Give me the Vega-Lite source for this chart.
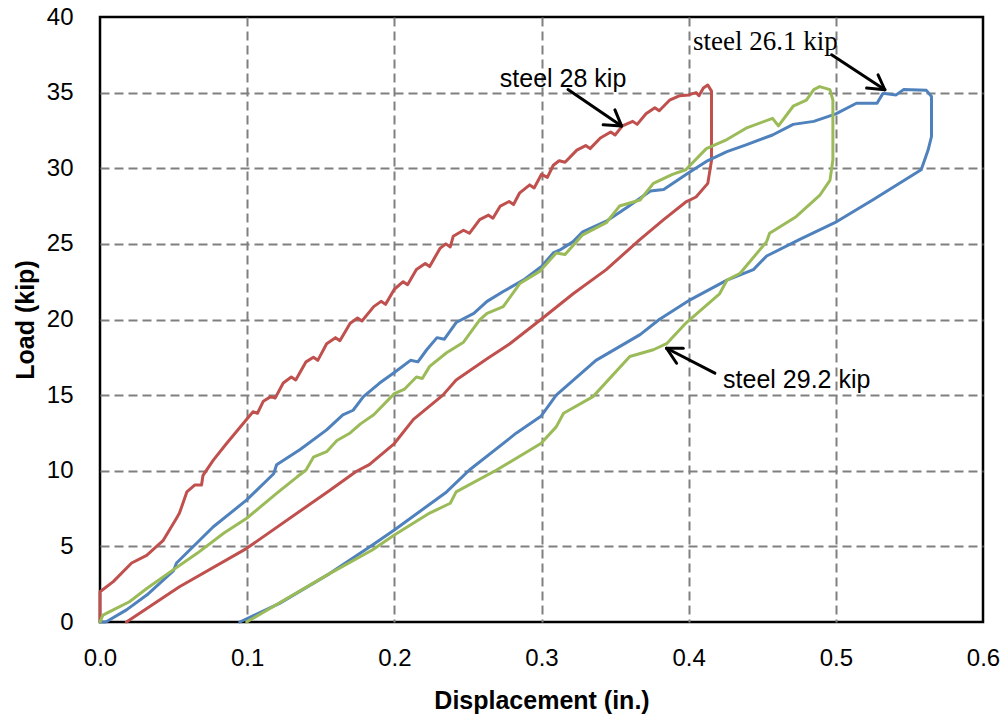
{
  "$schema": "https://vega.github.io/schema/vega-lite/v6.json",
  "width": 883,
  "height": 605,
  "autosize": {"type": "none"},
  "padding": {"left": 100, "top": 17, "right": 25, "bottom": 99},
  "background": "white",
  "config": {
    "font": "Liberation Sans",
    "view": {"stroke": "#000000", "strokeWidth": 2.5}
  },
  "datasets": {
    "curves": [
      {"specimen": "steel 28 kip", "seq": 1, "disp": 0, "load": 0},
      {"specimen": "steel 28 kip", "seq": 2, "disp": 0, "load": 2.0},
      {"specimen": "steel 28 kip", "seq": 3, "disp": 0.009, "load": 2.67},
      {"specimen": "steel 28 kip", "seq": 4, "disp": 0.0215, "load": 3.9},
      {"specimen": "steel 28 kip", "seq": 5, "disp": 0.0317, "load": 4.4},
      {"specimen": "steel 28 kip", "seq": 6, "disp": 0.043, "load": 5.4},
      {"specimen": "steel 28 kip", "seq": 7, "disp": 0.052, "load": 6.86},
      {"specimen": "steel 28 kip", "seq": 8, "disp": 0.054, "load": 7.2},
      {"specimen": "steel 28 kip", "seq": 9, "disp": 0.059, "load": 8.6},
      {"specimen": "steel 28 kip", "seq": 10, "disp": 0.0645, "load": 9.06},
      {"specimen": "steel 28 kip", "seq": 11, "disp": 0.069, "load": 9.06},
      {"specimen": "steel 28 kip", "seq": 12, "disp": 0.070, "load": 9.7},
      {"specimen": "steel 28 kip", "seq": 13, "disp": 0.077, "load": 10.7},
      {"specimen": "steel 28 kip", "seq": 14, "disp": 0.086, "load": 11.8},
      {"specimen": "steel 28 kip", "seq": 15, "disp": 0.0997, "load": 13.4},
      {"specimen": "steel 28 kip", "seq": 16, "disp": 0.104, "load": 13.9},
      {"specimen": "steel 28 kip", "seq": 17, "disp": 0.107, "load": 13.8},
      {"specimen": "steel 28 kip", "seq": 18, "disp": 0.111, "load": 14.6},
      {"specimen": "steel 28 kip", "seq": 19, "disp": 0.116, "load": 14.9},
      {"specimen": "steel 28 kip", "seq": 20, "disp": 0.119, "load": 14.8},
      {"specimen": "steel 28 kip", "seq": 21, "disp": 0.1245, "load": 15.8},
      {"specimen": "steel 28 kip", "seq": 22, "disp": 0.130, "load": 16.2},
      {"specimen": "steel 28 kip", "seq": 23, "disp": 0.133, "load": 16.0},
      {"specimen": "steel 28 kip", "seq": 24, "disp": 0.140, "load": 17.2},
      {"specimen": "steel 28 kip", "seq": 25, "disp": 0.145, "load": 17.5},
      {"specimen": "steel 28 kip", "seq": 26, "disp": 0.148, "load": 17.3},
      {"specimen": "steel 28 kip", "seq": 27, "disp": 0.154, "load": 18.4},
      {"specimen": "steel 28 kip", "seq": 28, "disp": 0.160, "load": 18.8},
      {"specimen": "steel 28 kip", "seq": 29, "disp": 0.163, "load": 18.6},
      {"specimen": "steel 28 kip", "seq": 30, "disp": 0.170, "load": 19.75},
      {"specimen": "steel 28 kip", "seq": 31, "disp": 0.175, "load": 20.1},
      {"specimen": "steel 28 kip", "seq": 32, "disp": 0.178, "load": 19.9},
      {"specimen": "steel 28 kip", "seq": 33, "disp": 0.186, "load": 20.85},
      {"specimen": "steel 28 kip", "seq": 34, "disp": 0.191, "load": 21.2},
      {"specimen": "steel 28 kip", "seq": 35, "disp": 0.194, "load": 21.0},
      {"specimen": "steel 28 kip", "seq": 36, "disp": 0.200, "load": 22.0},
      {"specimen": "steel 28 kip", "seq": 37, "disp": 0.206, "load": 22.5},
      {"specimen": "steel 28 kip", "seq": 38, "disp": 0.209, "load": 22.3},
      {"specimen": "steel 28 kip", "seq": 39, "disp": 0.215, "load": 23.3},
      {"specimen": "steel 28 kip", "seq": 40, "disp": 0.221, "load": 23.7},
      {"specimen": "steel 28 kip", "seq": 41, "disp": 0.224, "load": 23.5},
      {"specimen": "steel 28 kip", "seq": 42, "disp": 0.231, "load": 24.7},
      {"specimen": "steel 28 kip", "seq": 43, "disp": 0.235, "load": 25.0},
      {"specimen": "steel 28 kip", "seq": 44, "disp": 0.238, "load": 24.8},
      {"specimen": "steel 28 kip", "seq": 45, "disp": 0.240, "load": 25.5},
      {"specimen": "steel 28 kip", "seq": 46, "disp": 0.247, "load": 25.9},
      {"specimen": "steel 28 kip", "seq": 47, "disp": 0.251, "load": 25.7},
      {"specimen": "steel 28 kip", "seq": 48, "disp": 0.258, "load": 26.6},
      {"specimen": "steel 28 kip", "seq": 49, "disp": 0.264, "load": 26.9},
      {"specimen": "steel 28 kip", "seq": 50, "disp": 0.267, "load": 26.7},
      {"specimen": "steel 28 kip", "seq": 51, "disp": 0.272, "load": 27.5},
      {"specimen": "steel 28 kip", "seq": 52, "disp": 0.278, "load": 27.8},
      {"specimen": "steel 28 kip", "seq": 53, "disp": 0.281, "load": 27.6},
      {"specimen": "steel 28 kip", "seq": 54, "disp": 0.285, "load": 28.35},
      {"specimen": "steel 28 kip", "seq": 55, "disp": 0.292, "load": 28.9},
      {"specimen": "steel 28 kip", "seq": 56, "disp": 0.295, "load": 28.7},
      {"specimen": "steel 28 kip", "seq": 57, "disp": 0.300, "load": 29.6},
      {"specimen": "steel 28 kip", "seq": 58, "disp": 0.304, "load": 29.4},
      {"specimen": "steel 28 kip", "seq": 59, "disp": 0.308, "load": 30.2},
      {"specimen": "steel 28 kip", "seq": 60, "disp": 0.312, "load": 30.5},
      {"specimen": "steel 28 kip", "seq": 61, "disp": 0.316, "load": 30.4},
      {"specimen": "steel 28 kip", "seq": 62, "disp": 0.324, "load": 31.2},
      {"specimen": "steel 28 kip", "seq": 63, "disp": 0.330, "load": 31.5},
      {"specimen": "steel 28 kip", "seq": 64, "disp": 0.333, "load": 31.3},
      {"specimen": "steel 28 kip", "seq": 65, "disp": 0.340, "load": 32.0},
      {"specimen": "steel 28 kip", "seq": 66, "disp": 0.347, "load": 32.4},
      {"specimen": "steel 28 kip", "seq": 67, "disp": 0.350, "load": 32.2},
      {"specimen": "steel 28 kip", "seq": 68, "disp": 0.355, "load": 32.8},
      {"specimen": "steel 28 kip", "seq": 69, "disp": 0.362, "load": 33.1},
      {"specimen": "steel 28 kip", "seq": 70, "disp": 0.365, "load": 32.9},
      {"specimen": "steel 28 kip", "seq": 71, "disp": 0.371, "load": 33.6},
      {"specimen": "steel 28 kip", "seq": 72, "disp": 0.377, "load": 34.0},
      {"specimen": "steel 28 kip", "seq": 73, "disp": 0.380, "load": 33.8},
      {"specimen": "steel 28 kip", "seq": 74, "disp": 0.387, "load": 34.5},
      {"specimen": "steel 28 kip", "seq": 75, "disp": 0.394, "load": 34.8},
      {"specimen": "steel 28 kip", "seq": 76, "disp": 0.400, "load": 34.85},
      {"specimen": "steel 28 kip", "seq": 77, "disp": 0.405, "load": 35.0},
      {"specimen": "steel 28 kip", "seq": 78, "disp": 0.407, "load": 34.8},
      {"specimen": "steel 28 kip", "seq": 79, "disp": 0.410, "load": 35.3},
      {"specimen": "steel 28 kip", "seq": 80, "disp": 0.413, "load": 35.5},
      {"specimen": "steel 28 kip", "seq": 81, "disp": 0.4155, "load": 35.1},
      {"specimen": "steel 28 kip", "seq": 82, "disp": 0.4155, "load": 30.5},
      {"specimen": "steel 28 kip", "seq": 83, "disp": 0.413, "load": 29.0},
      {"specimen": "steel 28 kip", "seq": 84, "disp": 0.405, "load": 28.1},
      {"specimen": "steel 28 kip", "seq": 85, "disp": 0.3985, "load": 27.8},
      {"specimen": "steel 28 kip", "seq": 86, "disp": 0.383, "load": 26.6},
      {"specimen": "steel 28 kip", "seq": 87, "disp": 0.367, "load": 25.3},
      {"specimen": "steel 28 kip", "seq": 88, "disp": 0.344, "load": 23.3},
      {"specimen": "steel 28 kip", "seq": 89, "disp": 0.3215, "load": 21.7},
      {"specimen": "steel 28 kip", "seq": 90, "disp": 0.2996, "load": 20.0},
      {"specimen": "steel 28 kip", "seq": 91, "disp": 0.2785, "load": 18.4},
      {"specimen": "steel 28 kip", "seq": 92, "disp": 0.263, "load": 17.4},
      {"specimen": "steel 28 kip", "seq": 93, "disp": 0.242, "load": 16.0},
      {"specimen": "steel 28 kip", "seq": 94, "disp": 0.233, "load": 15.0},
      {"specimen": "steel 28 kip", "seq": 95, "disp": 0.213, "load": 13.4},
      {"specimen": "steel 28 kip", "seq": 96, "disp": 0.200, "load": 11.8},
      {"specimen": "steel 28 kip", "seq": 97, "disp": 0.183, "load": 10.4},
      {"specimen": "steel 28 kip", "seq": 98, "disp": 0.174, "load": 9.95},
      {"specimen": "steel 28 kip", "seq": 99, "disp": 0.156, "load": 8.7},
      {"specimen": "steel 28 kip", "seq": 100, "disp": 0.0997, "load": 4.87},
      {"specimen": "steel 28 kip", "seq": 101, "disp": 0.054, "load": 2.33},
      {"specimen": "steel 28 kip", "seq": 102, "disp": 0.018, "load": 0},

      {"specimen": "steel 26.1 kip", "seq": 1, "disp": 0, "load": 0},
      {"specimen": "steel 26.1 kip", "seq": 2, "disp": 0.004, "load": 0},
      {"specimen": "steel 26.1 kip", "seq": 3, "disp": 0.018, "load": 0.8},
      {"specimen": "steel 26.1 kip", "seq": 4, "disp": 0.032, "load": 1.8},
      {"specimen": "steel 26.1 kip", "seq": 5, "disp": 0.050, "load": 3.4},
      {"specimen": "steel 26.1 kip", "seq": 6, "disp": 0.052, "load": 3.9},
      {"specimen": "steel 26.1 kip", "seq": 7, "disp": 0.077, "load": 6.3},
      {"specimen": "steel 26.1 kip", "seq": 8, "disp": 0.0997, "load": 8.07},
      {"specimen": "steel 26.1 kip", "seq": 9, "disp": 0.118, "load": 9.8},
      {"specimen": "steel 26.1 kip", "seq": 10, "disp": 0.120, "load": 10.4},
      {"specimen": "steel 26.1 kip", "seq": 11, "disp": 0.136, "load": 11.4},
      {"specimen": "steel 26.1 kip", "seq": 12, "disp": 0.154, "load": 12.7},
      {"specimen": "steel 26.1 kip", "seq": 13, "disp": 0.165, "load": 13.7},
      {"specimen": "steel 26.1 kip", "seq": 14, "disp": 0.172, "load": 14.0},
      {"specimen": "steel 26.1 kip", "seq": 15, "disp": 0.179, "load": 14.9},
      {"specimen": "steel 26.1 kip", "seq": 16, "disp": 0.190, "load": 15.8},
      {"specimen": "steel 26.1 kip", "seq": 17, "disp": 0.200, "load": 16.5},
      {"specimen": "steel 26.1 kip", "seq": 18, "disp": 0.211, "load": 17.3},
      {"specimen": "steel 26.1 kip", "seq": 19, "disp": 0.216, "load": 17.2},
      {"specimen": "steel 26.1 kip", "seq": 20, "disp": 0.222, "load": 18.0},
      {"specimen": "steel 26.1 kip", "seq": 21, "disp": 0.229, "load": 18.8},
      {"specimen": "steel 26.1 kip", "seq": 22, "disp": 0.234, "load": 18.7},
      {"specimen": "steel 26.1 kip", "seq": 23, "disp": 0.242, "load": 19.8},
      {"specimen": "steel 26.1 kip", "seq": 24, "disp": 0.254, "load": 20.4},
      {"specimen": "steel 26.1 kip", "seq": 25, "disp": 0.263, "load": 21.2},
      {"specimen": "steel 26.1 kip", "seq": 26, "disp": 0.274, "load": 21.85},
      {"specimen": "steel 26.1 kip", "seq": 27, "disp": 0.2876, "load": 22.6},
      {"specimen": "steel 26.1 kip", "seq": 28, "disp": 0.300, "load": 23.5},
      {"specimen": "steel 26.1 kip", "seq": 29, "disp": 0.308, "load": 24.4},
      {"specimen": "steel 26.1 kip", "seq": 30, "disp": 0.3125, "load": 24.6},
      {"specimen": "steel 26.1 kip", "seq": 31, "disp": 0.3215, "load": 25.15},
      {"specimen": "steel 26.1 kip", "seq": 32, "disp": 0.328, "load": 25.8},
      {"specimen": "steel 26.1 kip", "seq": 33, "disp": 0.344, "load": 26.5},
      {"specimen": "steel 26.1 kip", "seq": 34, "disp": 0.358, "load": 27.4},
      {"specimen": "steel 26.1 kip", "seq": 35, "disp": 0.374, "load": 28.5},
      {"specimen": "steel 26.1 kip", "seq": 36, "disp": 0.383, "load": 28.6},
      {"specimen": "steel 26.1 kip", "seq": 37, "disp": 0.400, "load": 29.7},
      {"specimen": "steel 26.1 kip", "seq": 38, "disp": 0.412, "load": 30.45},
      {"specimen": "steel 26.1 kip", "seq": 39, "disp": 0.426, "load": 31.1},
      {"specimen": "steel 26.1 kip", "seq": 40, "disp": 0.439, "load": 31.55},
      {"specimen": "steel 26.1 kip", "seq": 41, "disp": 0.457, "load": 32.2},
      {"specimen": "steel 26.1 kip", "seq": 42, "disp": 0.471, "load": 32.9},
      {"specimen": "steel 26.1 kip", "seq": 43, "disp": 0.485, "load": 33.1},
      {"specimen": "steel 26.1 kip", "seq": 44, "disp": 0.500, "load": 33.6},
      {"specimen": "steel 26.1 kip", "seq": 45, "disp": 0.514, "load": 34.3},
      {"specimen": "steel 26.1 kip", "seq": 46, "disp": 0.528, "load": 34.3},
      {"specimen": "steel 26.1 kip", "seq": 47, "disp": 0.532, "load": 34.95},
      {"specimen": "steel 26.1 kip", "seq": 48, "disp": 0.541, "load": 34.85},
      {"specimen": "steel 26.1 kip", "seq": 49, "disp": 0.546, "load": 35.2},
      {"specimen": "steel 26.1 kip", "seq": 50, "disp": 0.5615, "load": 35.15},
      {"specimen": "steel 26.1 kip", "seq": 51, "disp": 0.565, "load": 34.75},
      {"specimen": "steel 26.1 kip", "seq": 52, "disp": 0.565, "load": 32.1},
      {"specimen": "steel 26.1 kip", "seq": 53, "disp": 0.5627, "load": 31.2},
      {"specimen": "steel 26.1 kip", "seq": 54, "disp": 0.558, "load": 29.9},
      {"specimen": "steel 26.1 kip", "seq": 55, "disp": 0.525, "load": 27.9},
      {"specimen": "steel 26.1 kip", "seq": 56, "disp": 0.4993, "load": 26.4},
      {"specimen": "steel 26.1 kip", "seq": 57, "disp": 0.4755, "load": 25.3},
      {"specimen": "steel 26.1 kip", "seq": 58, "disp": 0.453, "load": 24.2},
      {"specimen": "steel 26.1 kip", "seq": 59, "disp": 0.444, "load": 23.3},
      {"specimen": "steel 26.1 kip", "seq": 60, "disp": 0.426, "load": 22.6},
      {"specimen": "steel 26.1 kip", "seq": 61, "disp": 0.401, "load": 21.3},
      {"specimen": "steel 26.1 kip", "seq": 62, "disp": 0.380, "load": 20.0},
      {"specimen": "steel 26.1 kip", "seq": 63, "disp": 0.367, "load": 19.0},
      {"specimen": "steel 26.1 kip", "seq": 64, "disp": 0.337, "load": 17.3},
      {"specimen": "steel 26.1 kip", "seq": 65, "disp": 0.310, "load": 15.0},
      {"specimen": "steel 26.1 kip", "seq": 66, "disp": 0.2996, "load": 13.6},
      {"specimen": "steel 26.1 kip", "seq": 67, "disp": 0.283, "load": 12.5},
      {"specimen": "steel 26.1 kip", "seq": 68, "disp": 0.251, "load": 10.05},
      {"specimen": "steel 26.1 kip", "seq": 69, "disp": 0.2355, "load": 8.6},
      {"specimen": "steel 26.1 kip", "seq": 70, "disp": 0.200, "load": 6.08},
      {"specimen": "steel 26.1 kip", "seq": 71, "disp": 0.1834, "load": 4.98},
      {"specimen": "steel 26.1 kip", "seq": 72, "disp": 0.156, "load": 3.2},
      {"specimen": "steel 26.1 kip", "seq": 73, "disp": 0.122, "load": 1.23},
      {"specimen": "steel 26.1 kip", "seq": 74, "disp": 0.095, "load": 0},

      {"specimen": "steel 29.2 kip", "seq": 1, "disp": 0, "load": 0},
      {"specimen": "steel 29.2 kip", "seq": 2, "disp": 0.002, "load": 0.46},
      {"specimen": "steel 29.2 kip", "seq": 3, "disp": 0.009, "load": 0.8},
      {"specimen": "steel 29.2 kip", "seq": 4, "disp": 0.020, "load": 1.34},
      {"specimen": "steel 29.2 kip", "seq": 5, "disp": 0.032, "load": 2.23},
      {"specimen": "steel 29.2 kip", "seq": 6, "disp": 0.048, "load": 3.33},
      {"specimen": "steel 29.2 kip", "seq": 7, "disp": 0.066, "load": 4.54},
      {"specimen": "steel 29.2 kip", "seq": 8, "disp": 0.084, "load": 5.87},
      {"specimen": "steel 29.2 kip", "seq": 9, "disp": 0.0997, "load": 6.86},
      {"specimen": "steel 29.2 kip", "seq": 10, "disp": 0.120, "load": 8.5},
      {"specimen": "steel 29.2 kip", "seq": 11, "disp": 0.134, "load": 9.6},
      {"specimen": "steel 29.2 kip", "seq": 12, "disp": 0.140, "load": 10.05},
      {"specimen": "steel 29.2 kip", "seq": 13, "disp": 0.145, "load": 10.9},
      {"specimen": "steel 29.2 kip", "seq": 14, "disp": 0.154, "load": 11.26},
      {"specimen": "steel 29.2 kip", "seq": 15, "disp": 0.161, "load": 12.0},
      {"specimen": "steel 29.2 kip", "seq": 16, "disp": 0.170, "load": 12.5},
      {"specimen": "steel 29.2 kip", "seq": 17, "disp": 0.177, "load": 13.1},
      {"specimen": "steel 29.2 kip", "seq": 18, "disp": 0.186, "load": 13.7},
      {"specimen": "steel 29.2 kip", "seq": 19, "disp": 0.200, "load": 15.1},
      {"specimen": "steel 29.2 kip", "seq": 20, "disp": 0.207, "load": 15.4},
      {"specimen": "steel 29.2 kip", "seq": 21, "disp": 0.215, "load": 16.2},
      {"specimen": "steel 29.2 kip", "seq": 22, "disp": 0.219, "load": 16.1},
      {"specimen": "steel 29.2 kip", "seq": 23, "disp": 0.224, "load": 16.9},
      {"specimen": "steel 29.2 kip", "seq": 24, "disp": 0.2355, "load": 17.8},
      {"specimen": "steel 29.2 kip", "seq": 25, "disp": 0.247, "load": 18.5},
      {"specimen": "steel 29.2 kip", "seq": 26, "disp": 0.258, "load": 19.97},
      {"specimen": "steel 29.2 kip", "seq": 27, "disp": 0.263, "load": 20.4},
      {"specimen": "steel 29.2 kip", "seq": 28, "disp": 0.274, "load": 20.85},
      {"specimen": "steel 29.2 kip", "seq": 29, "disp": 0.2855, "load": 22.4},
      {"specimen": "steel 29.2 kip", "seq": 30, "disp": 0.299, "load": 23.2},
      {"specimen": "steel 29.2 kip", "seq": 31, "disp": 0.310, "load": 24.4},
      {"specimen": "steel 29.2 kip", "seq": 32, "disp": 0.316, "load": 24.3},
      {"specimen": "steel 29.2 kip", "seq": 33, "disp": 0.328, "load": 25.6},
      {"specimen": "steel 29.2 kip", "seq": 34, "disp": 0.344, "load": 26.4},
      {"specimen": "steel 29.2 kip", "seq": 35, "disp": 0.353, "load": 27.5},
      {"specimen": "steel 29.2 kip", "seq": 36, "disp": 0.367, "load": 27.9},
      {"specimen": "steel 29.2 kip", "seq": 37, "disp": 0.376, "load": 29.0},
      {"specimen": "steel 29.2 kip", "seq": 38, "disp": 0.389, "load": 29.6},
      {"specimen": "steel 29.2 kip", "seq": 39, "disp": 0.398, "load": 29.9},
      {"specimen": "steel 29.2 kip", "seq": 40, "disp": 0.412, "load": 31.3},
      {"specimen": "steel 29.2 kip", "seq": 41, "disp": 0.426, "load": 31.9},
      {"specimen": "steel 29.2 kip", "seq": 42, "disp": 0.439, "load": 32.65},
      {"specimen": "steel 29.2 kip", "seq": 43, "disp": 0.457, "load": 33.3},
      {"specimen": "steel 29.2 kip", "seq": 44, "disp": 0.461, "load": 32.8},
      {"specimen": "steel 29.2 kip", "seq": 45, "disp": 0.471, "load": 34.1},
      {"specimen": "steel 29.2 kip", "seq": 46, "disp": 0.480, "load": 34.5},
      {"specimen": "steel 29.2 kip", "seq": 47, "disp": 0.485, "load": 35.2},
      {"specimen": "steel 29.2 kip", "seq": 48, "disp": 0.489, "load": 35.4},
      {"specimen": "steel 29.2 kip", "seq": 49, "disp": 0.496, "load": 35.2},
      {"specimen": "steel 29.2 kip", "seq": 50, "disp": 0.498, "load": 34.5},
      {"specimen": "steel 29.2 kip", "seq": 51, "disp": 0.498, "load": 30.55},
      {"specimen": "steel 29.2 kip", "seq": 52, "disp": 0.496, "load": 29.2},
      {"specimen": "steel 29.2 kip", "seq": 53, "disp": 0.489, "load": 28.2},
      {"specimen": "steel 29.2 kip", "seq": 54, "disp": 0.473, "load": 26.8},
      {"specimen": "steel 29.2 kip", "seq": 55, "disp": 0.455, "load": 25.7},
      {"specimen": "steel 29.2 kip", "seq": 56, "disp": 0.453, "load": 25.15},
      {"specimen": "steel 29.2 kip", "seq": 57, "disp": 0.435, "load": 23.06},
      {"specimen": "steel 29.2 kip", "seq": 58, "disp": 0.426, "load": 22.6},
      {"specimen": "steel 29.2 kip", "seq": 59, "disp": 0.421, "load": 21.7},
      {"specimen": "steel 29.2 kip", "seq": 60, "disp": 0.3985, "load": 19.8},
      {"specimen": "steel 29.2 kip", "seq": 61, "disp": 0.385, "load": 18.4},
      {"specimen": "steel 29.2 kip", "seq": 62, "disp": 0.376, "load": 18.0},
      {"specimen": "steel 29.2 kip", "seq": 63, "disp": 0.360, "load": 17.55},
      {"specimen": "steel 29.2 kip", "seq": 64, "disp": 0.335, "load": 14.9},
      {"specimen": "steel 29.2 kip", "seq": 65, "disp": 0.315, "load": 13.8},
      {"specimen": "steel 29.2 kip", "seq": 66, "disp": 0.310, "load": 12.9},
      {"specimen": "steel 29.2 kip", "seq": 67, "disp": 0.2996, "load": 11.8},
      {"specimen": "steel 29.2 kip", "seq": 68, "disp": 0.2695, "load": 10.05},
      {"specimen": "steel 29.2 kip", "seq": 69, "disp": 0.242, "load": 8.6},
      {"specimen": "steel 29.2 kip", "seq": 70, "disp": 0.238, "load": 7.85},
      {"specimen": "steel 29.2 kip", "seq": 71, "disp": 0.224, "load": 7.2},
      {"specimen": "steel 29.2 kip", "seq": 72, "disp": 0.200, "load": 5.75},
      {"specimen": "steel 29.2 kip", "seq": 73, "disp": 0.185, "load": 4.76},
      {"specimen": "steel 29.2 kip", "seq": 74, "disp": 0.156, "load": 3.2},
      {"specimen": "steel 29.2 kip", "seq": 75, "disp": 0.0997, "load": 0}
    ],
    "arrows": [
      {"x1": 0.318, "y1": 35.2, "x2": 0.3544, "y2": 32.8},
      {"x1": 0.3419, "y1": 32.87, "x2": 0.3544, "y2": 32.8},
      {"x1": 0.3499, "y1": 33.86, "x2": 0.3544, "y2": 32.8},
      {"x1": 0.4971, "y1": 37.5, "x2": 0.5333, "y2": 35.19},
      {"x1": 0.5209, "y1": 35.3, "x2": 0.5333, "y2": 35.19},
      {"x1": 0.5287, "y1": 36.18, "x2": 0.5333, "y2": 35.19},
      {"x1": 0.4178, "y1": 16.45, "x2": 0.385, "y2": 18.1},
      {"x1": 0.3963, "y1": 18.1, "x2": 0.385, "y2": 18.1},
      {"x1": 0.3918, "y1": 17.11, "x2": 0.385, "y2": 18.1}
    ],
    "sansNotes": [
      {"label": "steel 28 kip", "disp": 0.2717, "load": 35.38},
      {"label": "steel 29.2 kip", "disp": 0.4234, "load": 15.48}
    ],
    "serifNotes": [
      {"label": "steel 26.1 kip", "disp": 0.4029, "load": 37.83}
    ]
  },
  "layer": [
    {
      "data": {"name": "curves"},
      "mark": {"type": "line", "strokeWidth": 3, "strokeJoin": "round", "strokeCap": "round"},
      "encoding": {
        "x": {
          "field": "disp",
          "type": "quantitative",
          "scale": {"domain": [0, 0.6], "nice": false, "zero": false},
          "axis": {
            "values": [0, 0.1, 0.2, 0.3, 0.4, 0.5, 0.6],
            "format": ".1f",
            "domain": false,
            "ticks": false,
            "grid": true,
            "gridColor": "#808080",
            "gridWidth": 2,
            "gridDash": [9, 5],
            "gridOpacity": {"condition": {"test": "datum.value <= 0.001 || datum.value >= 0.599", "value": 0}, "value": 1},
            "labelFont": "Liberation Sans",
            "labelFontSize": 24,
            "labelColor": "#000000",
            "labelPadding": 24,
            "labelFlush": false,
            "title": "Displacement (in.)",
            "titleFont": "Liberation Sans",
            "titleFontSize": 25,
            "titleFontWeight": "bold",
            "titleColor": "#000000",
            "titleX": 441.5,
            "titleY": 78,
            "titleAlign": "center",
            "titleBaseline": "middle"
          }
        },
        "y": {
          "field": "load",
          "type": "quantitative",
          "scale": {"domain": [0, 40], "nice": false},
          "axis": {
            "values": [0, 5, 10, 15, 20, 25, 30, 35, 40],
            "domain": false,
            "ticks": false,
            "grid": true,
            "gridColor": "#808080",
            "gridWidth": 2,
            "gridDash": [9, 5],
            "gridOpacity": {"condition": {"test": "datum.value <= 0 || datum.value >= 40", "value": 0}, "value": 1},
            "labelFont": "Liberation Sans",
            "labelFontSize": 24,
            "labelColor": "#000000",
            "labelPadding": 27,
            "labelFlush": false,
            "title": "Load (kip)",
            "titleFont": "Liberation Sans",
            "titleFontSize": 25,
            "titleFontWeight": "bold",
            "titleColor": "#000000",
            "titleAngle": -90,
            "titleX": -75,
            "titleY": 302.5,
            "titleAlign": "center",
            "titleBaseline": "middle"
          }
        },
        "color": {
          "field": "specimen",
          "type": "nominal",
          "scale": {
            "domain": ["steel 28 kip", "steel 26.1 kip", "steel 29.2 kip"],
            "range": ["#C0504D", "#4F81BD", "#9BBB59"]
          },
          "legend": null
        },
        "order": {"field": "seq", "type": "quantitative"}
      }
    },
    {
      "data": {"name": "arrows"},
      "mark": {"type": "rule", "stroke": "#000000", "strokeWidth": 3, "strokeCap": "round"},
      "encoding": {
        "x": {"field": "x1", "type": "quantitative"},
        "y": {"field": "y1", "type": "quantitative"},
        "x2": {"field": "x2"},
        "y2": {"field": "y2"}
      }
    },
    {
      "data": {"name": "sansNotes"},
      "mark": {"type": "text", "align": "left", "baseline": "alphabetic", "font": "Liberation Sans", "fontSize": 25, "color": "#000000"},
      "encoding": {
        "x": {"field": "disp", "type": "quantitative"},
        "y": {"field": "load", "type": "quantitative"},
        "text": {"field": "label"}
      }
    },
    {
      "data": {"name": "serifNotes"},
      "mark": {"type": "text", "align": "left", "baseline": "alphabetic", "font": "Liberation Serif", "fontSize": 27, "color": "#000000"},
      "encoding": {
        "x": {"field": "disp", "type": "quantitative"},
        "y": {"field": "load", "type": "quantitative"},
        "text": {"field": "label"}
      }
    }
  ]
}
